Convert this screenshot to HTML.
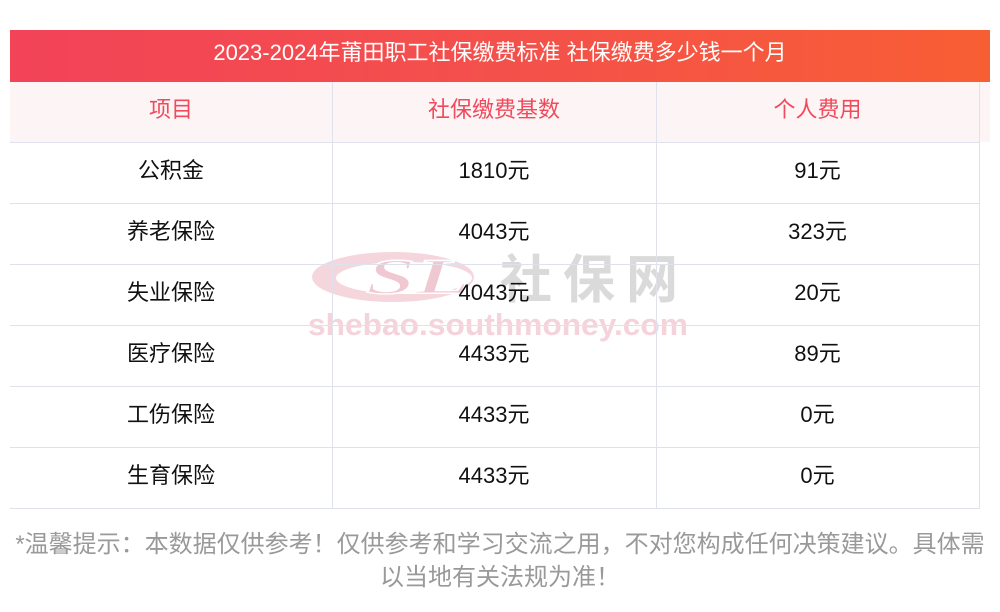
<!DOCTYPE html>
<html>
<head>
<meta charset="utf-8">
<style>
  html, body { margin:0; padding:0; background:#fff; }
  body { width:1000px; height:612px; position:relative; overflow:hidden;
         font-family:"Liberation Sans","Noto Sans CJK SC",sans-serif; }
  .title { position:absolute; left:10px; top:30px; width:980px; height:52px;
           background:linear-gradient(to right,#f24358 0%,#f4504b 50%,#f85e34 100%);
           color:#fff; font-size:22px; line-height:46px; text-align:center; }
  .hdr { position:absolute; left:10px; top:82px; width:980px; height:60px; background:#fdf4f5; }
  .cell { position:absolute; text-align:center; font-size:22px; color:#111; }
  .h { color:#f04a5c; line-height:56px; top:82px; height:60px; }
  .d { line-height:57px; height:61px; }
  .c1 { left:10px; width:322px; }
  .c2 { left:332px; width:324px; }
  .c3 { left:656px; width:323px; }
  .vl { position:absolute; width:1px; top:82px; height:427px; background:#dfe2ec; }
  .hl { position:absolute; height:1px; left:10px; width:970px; background:#dfe2ec; }
  .foot { position:absolute; left:10px; top:528px; width:980px; text-align:center;
          font-size:24px; line-height:33px; color:#999; }
  .wm { position:absolute; left:300px; top:245px; }
</style>
</head>
<body>
<div class="title">2023-2024年莆田职工社保缴费标准 社保缴费多少钱一个月</div>
<div class="hdr"></div>

<svg class="wm" width="400" height="100" viewBox="0 0 400 100">
  <ellipse cx="93" cy="32" rx="81" ry="25" fill="#f5d6dd"/>
  <ellipse cx="104" cy="33" rx="68" ry="16" fill="#fff"/>
  <text x="66" y="48" font-family="Liberation Serif, serif" font-weight="bold" font-style="italic" font-size="50" fill="#f0c8d2" stroke="#fff" stroke-width="1.5" textLength="104" lengthAdjust="spacingAndGlyphs">SL</text>
  <text x="200" y="53" font-family="Noto Sans CJK SC, sans-serif" font-weight="bold" font-size="52" fill="#dadada" textLength="178" lengthAdjust="spacing">社保网</text>
  <text x="8" y="90" font-family="Liberation Sans, sans-serif" font-weight="bold" font-size="31" fill="#f5d3db" textLength="380" lengthAdjust="spacingAndGlyphs">shebao.southmoney.com</text>
</svg>

<div class="vl" style="left:332px"></div>
<div class="vl" style="left:656px"></div>
<div class="vl" style="left:979px"></div>

<div class="hl" style="top:142px"></div>
<div class="hl" style="top:203px"></div>
<div class="hl" style="top:264px"></div>
<div class="hl" style="top:325px"></div>
<div class="hl" style="top:386px"></div>
<div class="hl" style="top:447px"></div>
<div class="hl" style="top:508px"></div>

<div class="cell h c1">项目</div>
<div class="cell h c2">社保缴费基数</div>
<div class="cell h c3">个人费用</div>

<div class="cell d c1" style="top:142px">公积金</div>
<div class="cell d c2" style="top:142px">1810元</div>
<div class="cell d c3" style="top:142px">91元</div>

<div class="cell d c1" style="top:203px">养老保险</div>
<div class="cell d c2" style="top:203px">4043元</div>
<div class="cell d c3" style="top:203px">323元</div>

<div class="cell d c1" style="top:264px">失业保险</div>
<div class="cell d c2" style="top:264px">4043元</div>
<div class="cell d c3" style="top:264px">20元</div>

<div class="cell d c1" style="top:325px">医疗保险</div>
<div class="cell d c2" style="top:325px">4433元</div>
<div class="cell d c3" style="top:325px">89元</div>

<div class="cell d c1" style="top:386px">工伤保险</div>
<div class="cell d c2" style="top:386px">4433元</div>
<div class="cell d c3" style="top:386px">0元</div>

<div class="cell d c1" style="top:447px">生育保险</div>
<div class="cell d c2" style="top:447px">4433元</div>
<div class="cell d c3" style="top:447px">0元</div>

<div class="foot">*温馨提示：本数据仅供参考！仅供参考和学习交流之用，不对您构成任何决策建议。具体需以当地有关法规为准！</div>
</body>
</html>
